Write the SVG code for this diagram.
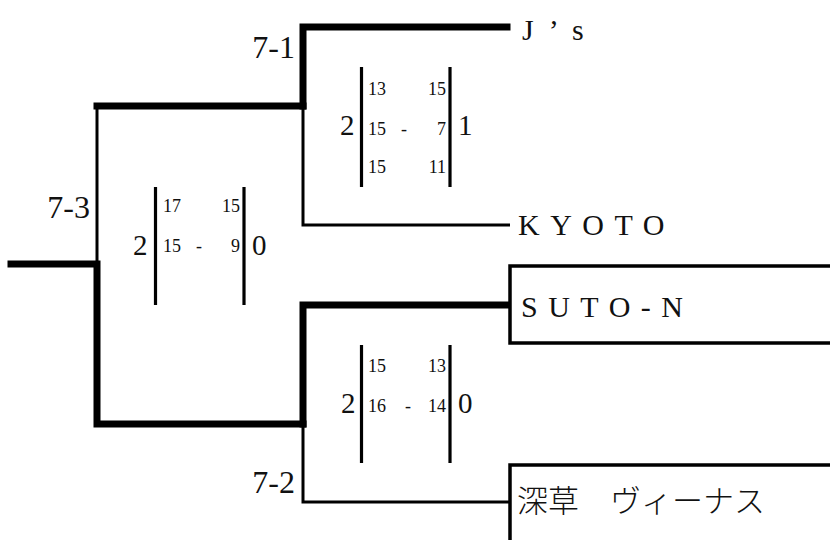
<svg xmlns="http://www.w3.org/2000/svg" width="830" height="540" viewBox="0 0 830 540">
<style>
.thick{fill:none;stroke:#000;stroke-width:7;stroke-linecap:square;stroke-linejoin:miter}
.thin{fill:none;stroke:#000;stroke-width:3}
.bar{stroke:#000;stroke-width:3.2}
.box{fill:none;stroke:#000;stroke-width:3.5}
text{fill:#111}
.lbl{font-size:32px}
.big{font-size:29px}
.sm{font-size:18px}
.team{font-size:30px}
.jp{font-size:31px;font-weight:300}
</style>
<rect width="830" height="540" fill="#fff"/>
<g id="connectors">
  <path class="thick" d="M11 264 H97 V424 H303"/>
  <path class="thin" d="M97 106 V264"/>
  <path class="thick" d="M97 106 H303"/>
  <path class="thick" d="M303 106 V27 H507"/>
  <path class="thin" d="M303 106 V225 H510"/>
  <path class="thick" d="M303 424 V305 H507"/>
  <path class="thin" d="M303 424 V502 H510"/>
</g>
<g font-family="Liberation Serif, DejaVu Serif, serif">
<g id="team-js">
  <text class="team" x="522" y="40" letter-spacing="15">J’s</text>
</g>
<g id="team-kyoto">
  <text class="team" x="518" y="235" letter-spacing="10.5">KYOTO</text>
</g>
<g id="team-suton">
  <rect class="box" x="510" y="266" width="330" height="77"/>
  <text class="team" x="521" y="317" letter-spacing="10.5">SUTO-N</text>
</g>
<g id="team-fukakusa">
  <rect class="box" x="510" y="465" width="330" height="100"/>
  <text class="jp" x="517" y="512" font-family="Noto Sans CJK JP, sans-serif">深草　ヴィーナス</text>
</g>
<g id="match-7-1">
  <text class="lbl" x="295" y="58" text-anchor="end">7-1</text>
  <line class="bar" x1="361.5" y1="67" x2="361.5" y2="187"/>
  <line class="bar" x1="450" y1="67" x2="450" y2="187"/>
  <text class="big" x="340" y="135">2</text>
  <text class="big" x="458" y="135">1</text>
  <text class="sm" x="368" y="95">13</text>
  <text class="sm" x="446" y="95" text-anchor="end">15</text>
  <text class="sm" x="368" y="135">15</text>
  <text class="sm" x="404" y="135" text-anchor="middle">-</text>
  <text class="sm" x="446" y="135" text-anchor="end">7</text>
  <text class="sm" x="368" y="173">15</text>
  <text class="sm" x="446" y="173" text-anchor="end">11</text>
</g>
<g id="match-7-3">
  <text class="lbl" x="90" y="218" text-anchor="end">7-3</text>
  <line class="bar" x1="155.5" y1="187" x2="155.5" y2="305"/>
  <line class="bar" x1="244" y1="187" x2="244" y2="305"/>
  <text class="big" x="133" y="255">2</text>
  <text class="big" x="252" y="255">0</text>
  <text class="sm" x="163" y="212">17</text>
  <text class="sm" x="240" y="212" text-anchor="end">15</text>
  <text class="sm" x="163" y="252">15</text>
  <text class="sm" x="199" y="252" text-anchor="middle">-</text>
  <text class="sm" x="240" y="252" text-anchor="end">9</text>
</g>
<g id="match-7-2">
  <text class="lbl" x="295" y="493" text-anchor="end">7-2</text>
  <line class="bar" x1="361.5" y1="345" x2="361.5" y2="463"/>
  <line class="bar" x1="450" y1="345" x2="450" y2="463"/>
  <text class="big" x="341" y="413">2</text>
  <text class="big" x="458" y="413">0</text>
  <text class="sm" x="368" y="372">15</text>
  <text class="sm" x="446" y="372" text-anchor="end">13</text>
  <text class="sm" x="368" y="412">16</text>
  <text class="sm" x="408" y="412" text-anchor="middle">-</text>
  <text class="sm" x="446" y="412" text-anchor="end">14</text>
</g>
</g>
</svg>
